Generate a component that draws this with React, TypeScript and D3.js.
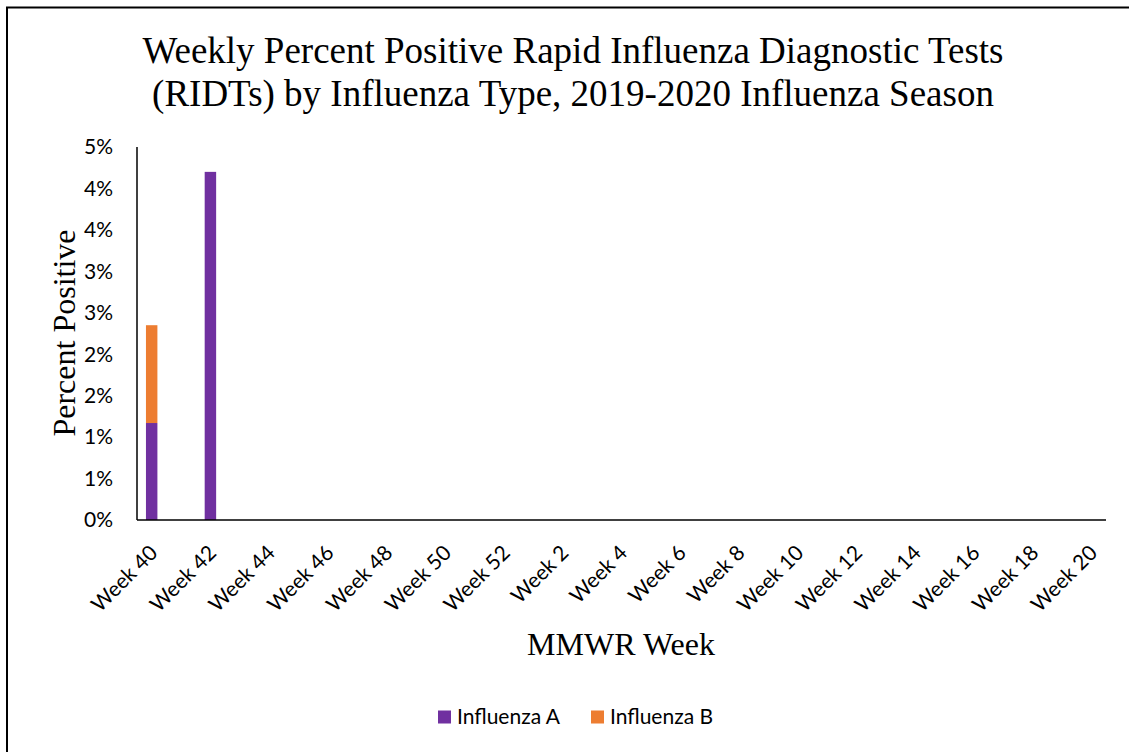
import { useMemo } from 'react';
import * as d3 from 'd3';

const WIDTH = 1129;
const HEIGHT = 752;
const MARGIN = { top: 147, right: 23, bottom: 232, left: 137 };

// MMWR weeks of the 2019-2020 season
const weeks = [40, 41, 42, 43, 44, 45, 46, 47, 48, 49, 50, 51, 52,
  1, 2, 3, 4, 5, 6, 7, 8, 9, 10, 11, 12, 13, 14, 15, 16, 17, 18, 19, 20];

// percent positive, by type
const fluA = [1.17, 0, 4.2, 0, 0, 0, 0, 0, 0, 0, 0, 0, 0,
  0, 0, 0, 0, 0, 0, 0, 0, 0, 0, 0, 0, 0, 0, 0, 0, 0, 0, 0, 0];
const fluB = [1.18, 0, 0, 0, 0, 0, 0, 0, 0, 0, 0, 0, 0,
  0, 0, 0, 0, 0, 0, 0, 0, 0, 0, 0, 0, 0, 0, 0, 0, 0, 0, 0, 0];

const groups = ['Influenza A', 'Influenza B'];
const colors = ['#7030A0', '#ED7D31'];
const yTicks = [0, 0.5, 1, 1.5, 2, 2.5, 3, 3.5, 4, 4.5];

const LABEL_FONT = 'Lato, "Open Sans", sans-serif';
const TITLE_FONT = '"Liberation Serif", "Times New Roman", serif';

export default function App() {
  const boundsWidth = WIDTH - MARGIN.left - MARGIN.right;
  const boundsHeight = HEIGHT - MARGIN.top - MARGIN.bottom;

  const data = weeks.map((w, i) => ({ week: String(w), a: fluA[i], b: fluB[i] }));

  const series = useMemo(() => d3.stack<any>().keys(['a', 'b'])(data), []);

  const xScale = d3
    .scaleBand()
    .domain(data.map((d) => d.week))
    .range([0, boundsWidth])
    .paddingInner(0.61)
    .paddingOuter(0.305);

  const yScale = d3.scaleLinear().domain([0, 4.5]).range([boundsHeight, 0]);

  // Excel shows whole percents, so 0.5 rounds up to 1%
  const fmt = (v: number) => `${Math.round(v + 1e-9)}%`;

  const bars = series.map((serie, si) =>
    serie.map((d, i) => {
      const h = yScale(d[0]) - yScale(d[1]);
      if (h <= 0) return null;
      return (
        <rect
          key={`${si}-${i}`}
          x={xScale(String(d.data.week))}
          y={yScale(d[1])}
          width={xScale.bandwidth()}
          height={h}
          fill={colors[si]}
        />
      );
    })
  );

  return (
    <svg
      width={WIDTH}
      height={HEIGHT}
      style={{ position: 'absolute', left: 0, top: 0, background: '#fff' }}
    >
      {/* chart frame, cut off on the right and bottom */}
      <line x1={6} y1={7.5} x2={WIDTH} y2={7.5} stroke="#000" strokeWidth={2} />
      <line x1={7} y1={7} x2={7} y2={HEIGHT} stroke="#000" strokeWidth={2} />

      <text
        x={573}
        y={63}
        textAnchor="middle"
        fontFamily={TITLE_FONT}
        fontSize={37}
        fill="#000"
      >
        Weekly Percent Positive Rapid Influenza Diagnostic Tests
      </text>
      <text
        x={573}
        y={106}
        textAnchor="middle"
        fontFamily={TITLE_FONT}
        fontSize={37}
        fill="#000"
      >
        (RIDTs) by Influenza Type, 2019-2020 Influenza Season
      </text>

      <g transform={`translate(${MARGIN.left},${MARGIN.top})`}>
        {bars}

        {/* y axis */}
        <line x1={0} y1={0} x2={0} y2={boundsHeight} stroke="#000" strokeWidth={1.5} />
        {yTicks.map((t) => (
          <text
            key={t}
            x={-24}
            y={yScale(t)}
            dy="0.35em"
            textAnchor="end"
            fontFamily={LABEL_FONT}
            fontSize={21}
            fill="#000"
          >
            {fmt(t)}
          </text>
        ))}

        {/* x axis */}
        <line x1={0} y1={boundsHeight} x2={boundsWidth} y2={boundsHeight} stroke="#000" strokeWidth={1.5} />
        {data
          .filter((d, i) => i % 2 === 0)
          .map((d) => {
            const cx = (xScale(d.week) || 0) + xScale.bandwidth() / 2;
            return (
              <text
                key={d.week}
                transform={`translate(${cx + 2},${boundsHeight + 29}) rotate(-45)`}
                textAnchor="end"
                dy="0.35em"
                fontFamily={LABEL_FONT}
                fontSize={21}
                fill="#000"
              >
                {`Week ${d.week}`}
              </text>
            );
          })}
      </g>

      <text
        transform={`translate(75,333) rotate(-90)`}
        textAnchor="middle"
        fontFamily={TITLE_FONT}
        fontSize={32}
        fill="#000"
      >
        Percent Positive
      </text>
      <text
        x={621}
        y={655}
        textAnchor="middle"
        fontFamily={TITLE_FONT}
        fontSize={32}
        fill="#000"
      >
        MMWR Week
      </text>

      {/* legend */}
      {groups.map((g, i) => {
        const x0 = i === 0 ? 438 : 591;
        return (
          <g key={g} transform={`translate(${x0},717)`}>
            <rect x={0} y={-6.5} width={13} height={13} fill={colors[i]} />
            <text x={19} y={0} dy="0.35em" fontFamily={LABEL_FONT} fontSize={21} fill="#000">
              {g}
            </text>
          </g>
        );
      })}
    </svg>
  );
}
